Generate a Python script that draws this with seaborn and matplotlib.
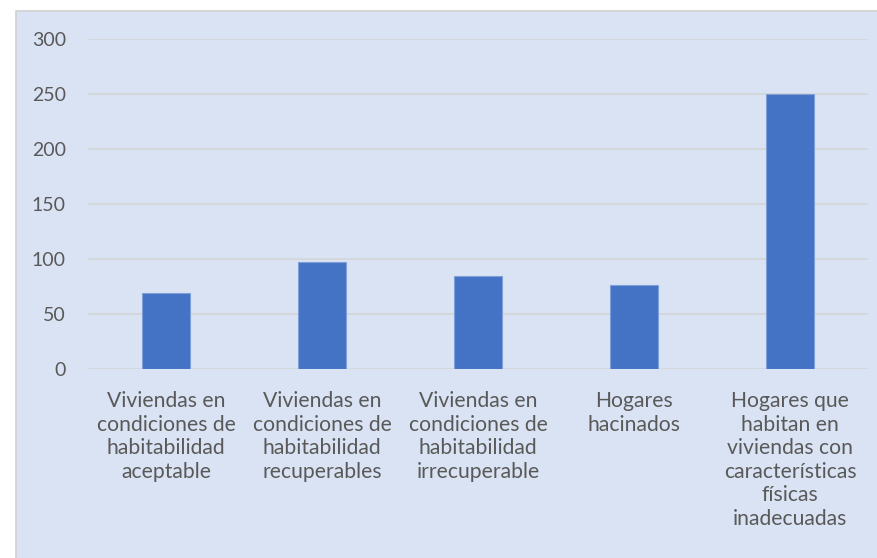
import matplotlib
matplotlib.use("Agg")
import matplotlib.pyplot as plt
from matplotlib.patches import Rectangle
import seaborn as sns
import pandas as pd

# Datos del gráfico
categorias = [
    "Viviendas en\ncondiciones de\nhabitabilidad\naceptable",
    "Viviendas en\ncondiciones de\nhabitabilidad\nrecuperables",
    "Viviendas en\ncondiciones de\nhabitabilidad\nirrecuperable",
    "Hogares\nhacinados",
    "Hogares que\nhabitan en\nviviendas con\ncaracterísticas\nfísicas\ninadecuadas",
]
valores = [69, 97, 85, 76, 250]
y_ticks = [0, 50, 100, 150, 200, 250, 300]

df = pd.DataFrame({"categoria": categorias, "valor": valores})

sns.set_style("white")
plt.rcParams["font.family"] = ["Lato", "DejaVu Sans"]

fondo = "#DAE3F3"
gris = "#595959"

fig = plt.figure(figsize=(8.78, 5.58), dpi=100)
fig.patch.set_facecolor("white")
# recuadro azul del área del gráfico (detrás de los ejes)
fig.patches.append(Rectangle((16 / 878, -0.01), 1.0, 1 - 11 / 558 + 0.01,
                             transform=fig.transFigure, facecolor=fondo,
                             edgecolor="#D0D0D0", linewidth=1.2, zorder=-5))

ax = fig.add_axes([88 / 878, 1 - 369 / 558, 780 / 878, 330 / 558])
ax.patch.set_alpha(0)

sns.barplot(data=df, x="categoria", y="valor", color="#4472C4", width=0.31,
            edgecolor="#7F9FD8", linewidth=0.8, saturation=1, ax=ax, zorder=3)

ax.set_ylim(0, 300)
ax.set_yticks(y_ticks)
ax.grid(axis="y", color="#D4D6D9", linewidth=1.3, zorder=0)
ax.set_axisbelow(True)
for s in ax.spines.values():
    s.set_visible(False)
ax.set_xlabel("")
ax.set_ylabel("")
ax.tick_params(axis="both", length=0, colors=gris)
ax.tick_params(axis="y", pad=16, labelsize=14)
ax.tick_params(axis="x", pad=16, labelsize=15.2)
for lbl in ax.get_xticklabels():
    lbl.set_linespacing(1.22)
    lbl.set_horizontalalignment("center")

fig.savefig("out.png", dpi=100, facecolor="white")
